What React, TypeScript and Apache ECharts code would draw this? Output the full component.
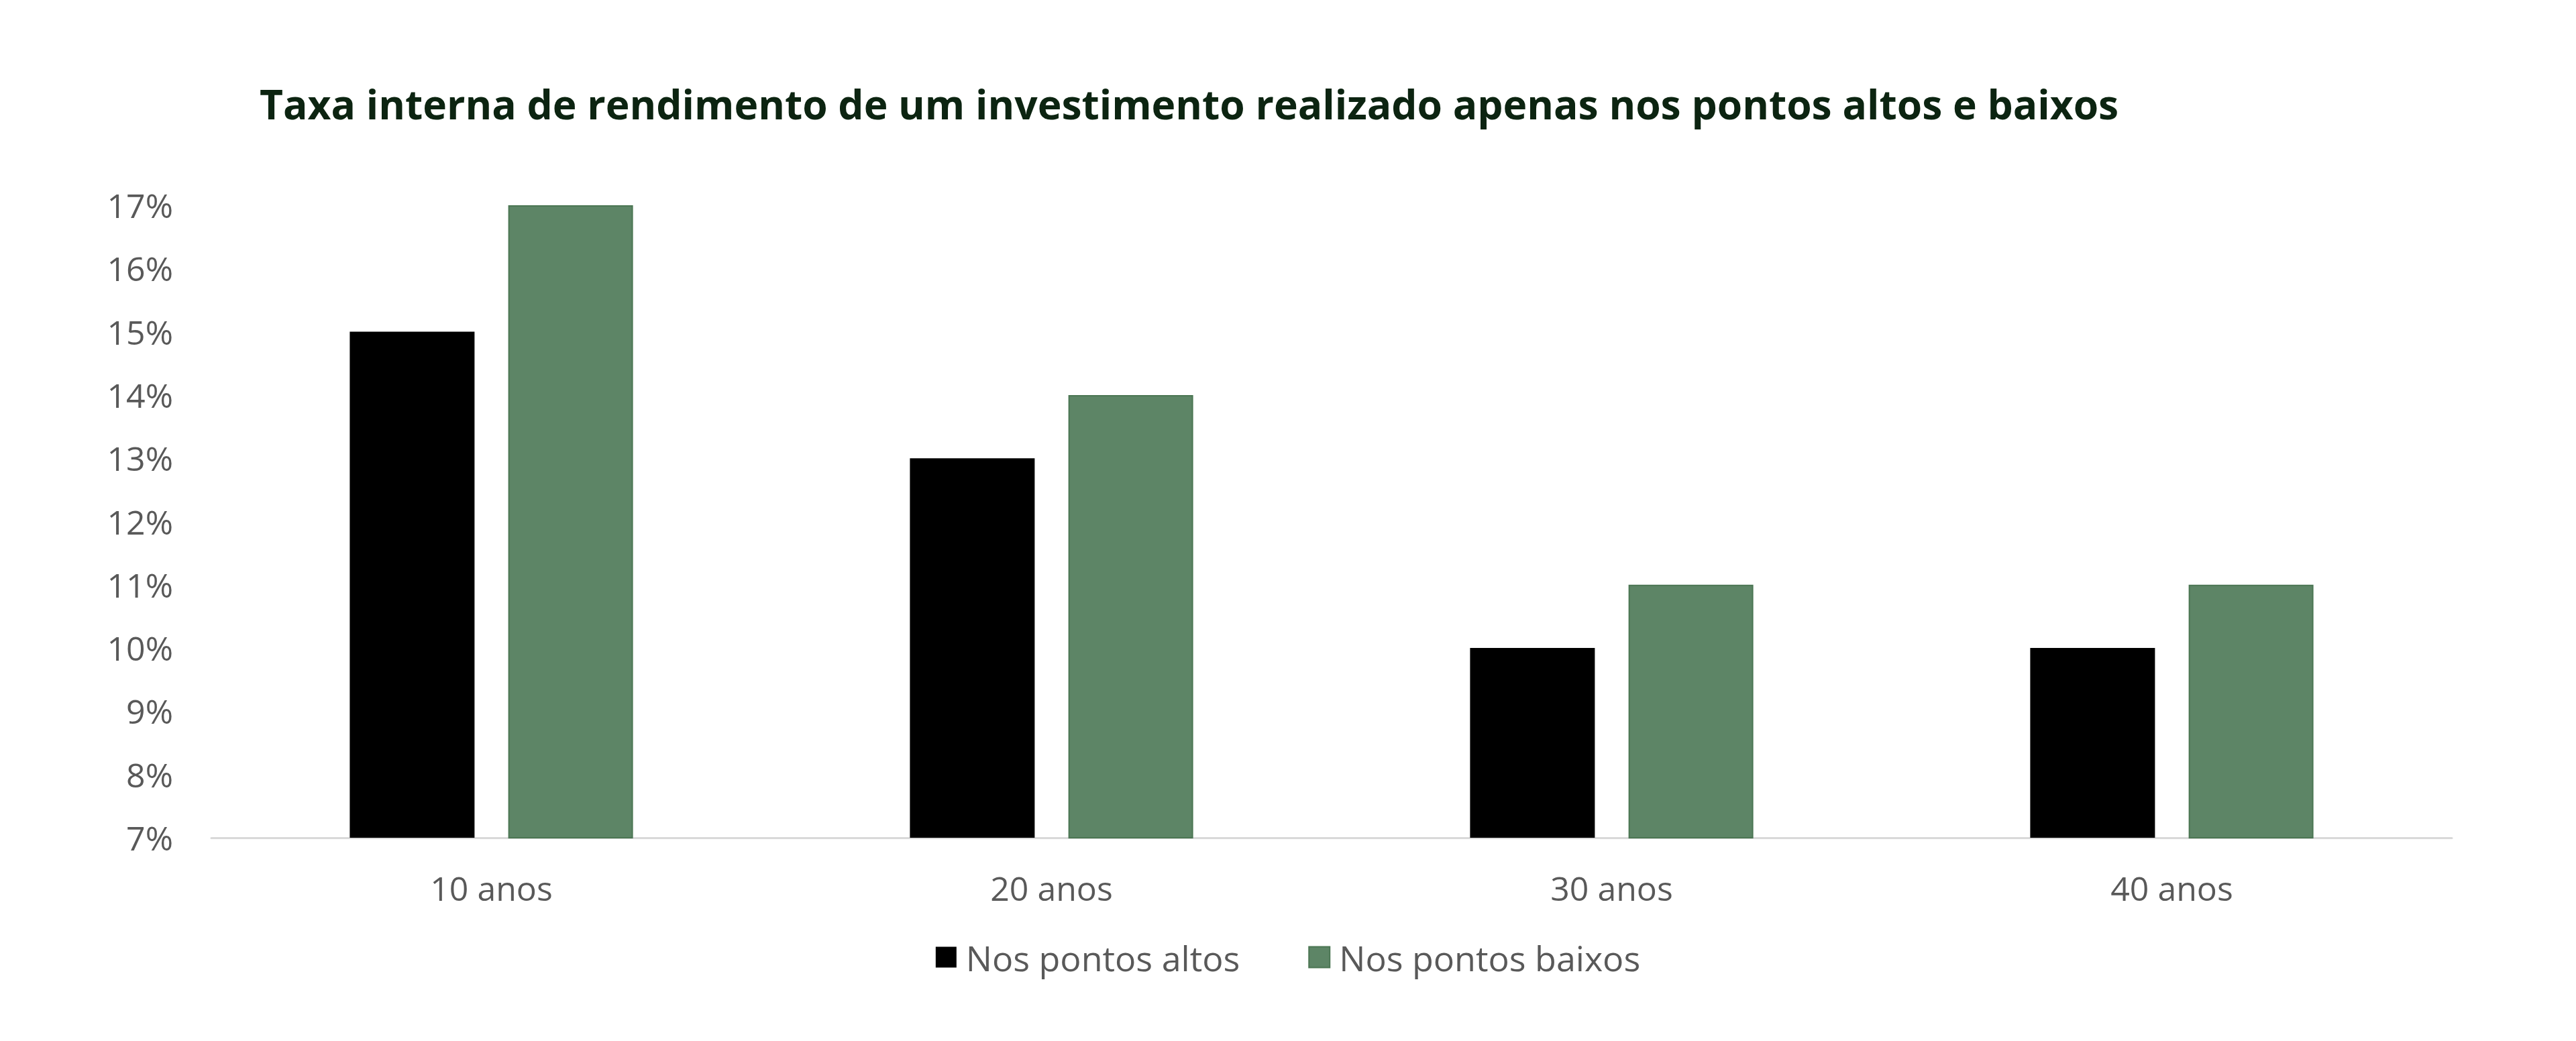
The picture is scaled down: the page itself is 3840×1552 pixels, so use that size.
import React, { useEffect, useRef } from "react";
import * as echarts from "echarts";

const titleText =
  "Taxa interna de rendimento de um investimento realizado apenas nos pontos altos e baixos";
const categories = ["10 anos", "20 anos", "30 anos", "40 anos"];
const seriesNames = ["Nos pontos altos", "Nos pontos baixos"];
const altosValues = [15, 13, 10, 10];
const baixosValues = [17, 14, 11, 11];
const yMin = 7;
const yMax = 17;
const yStep = 1;

const FONT = "'Open Sans', 'Noto Sans', sans-serif";

export default function App() {
  const ref = useRef<HTMLDivElement>(null);

  useEffect(() => {
    document.body.style.margin = "0";
    if (!ref.current) return;
    const chart = echarts.init(ref.current, undefined, { renderer: "svg" });
    chart.setOption({
      animation: false,
      backgroundColor: "#ffffff",
      title: {
        text: titleText,
        left: 382,
        top: 119,
        textStyle: {
          fontFamily: FONT,
          fontWeight: 700,
          fontSize: 60.5,
          color: "#0c2411",
        },
      },
      legend: {
        data: seriesNames,
        bottom: 94,
        left: "center",
        icon: "rect",
        itemWidth: 31,
        itemHeight: 31,
        itemGap: 102,
        textStyle: {
          fontFamily: FONT,
          fontSize: 52,
          color: "#595959",
          padding: [0, 0, 0, 9],
        },
      },
      grid: {
        left: 315,
        right: 185,
        top: 306,
        bottom: 303,
        containLabel: false,
      },
      xAxis: {
        type: "category",
        data: categories,
        axisLine: { show: true, lineStyle: { color: "#d9d9d9", width: 3 } },
        axisTick: { show: false },
        axisLabel: {
          fontFamily: FONT,
          fontSize: 50,
          color: "#595959",
          margin: 50,
        },
      },
      yAxis: {
        type: "value",
        min: yMin,
        max: yMax,
        interval: yStep,
        axisLine: { show: false },
        axisTick: { show: false },
        splitLine: { show: false },
        axisLabel: {
          fontFamily: FONT,
          fontSize: 50,
          color: "#595959",
          margin: 57,
          formatter: "{value}%",
        },
      },
      series: [
        {
          name: seriesNames[0],
          type: "bar",
          data: altosValues,
          barWidth: 186,
          barGap: "27%",
          itemStyle: { color: "#000000" },
        },
        {
          name: seriesNames[1],
          type: "bar",
          data: baixosValues,
          barWidth: 186,
          itemStyle: { color: "#5d8566", borderColor: "#4b7653", borderWidth: 2 },
        },
      ],
    });
    return () => chart.dispose();
  }, []);

  return <div ref={ref} style={{ width: 3840, height: 1552 }} />;
}
